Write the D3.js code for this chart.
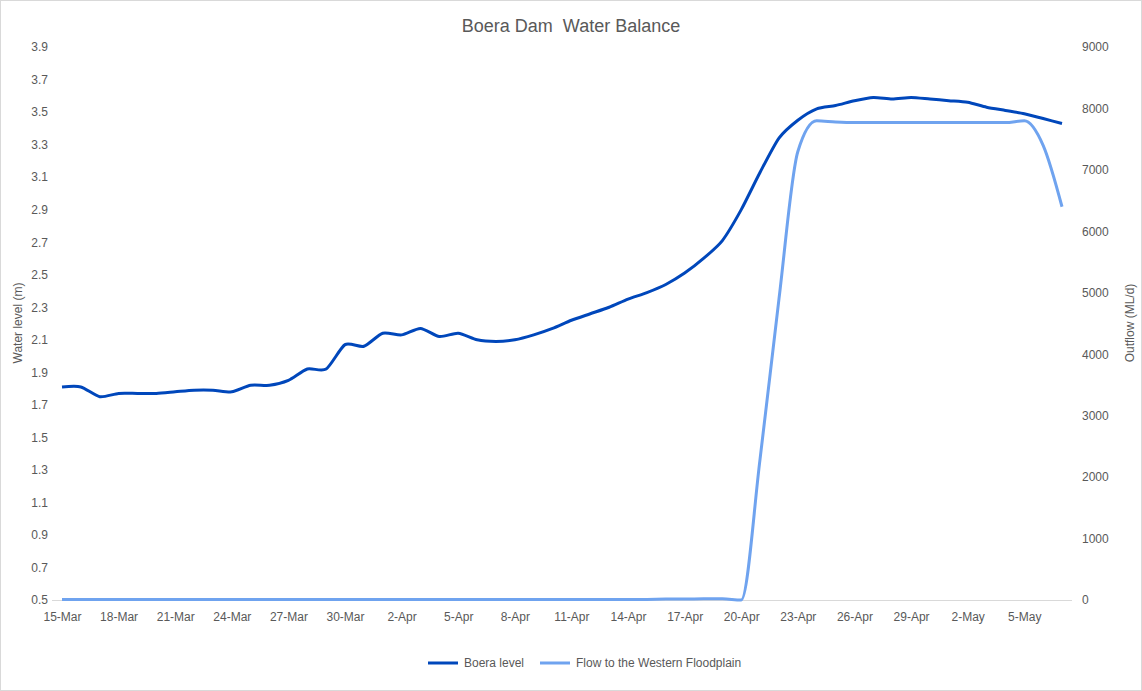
<!DOCTYPE html>
<html><head><meta charset="utf-8">
<script src="https://cdn.jsdelivr.net/npm/d3@7"></script>
<style>body{margin:0;background:#fff}text{font-family:"Liberation Sans",Arial,sans-serif}</style>
</head><body><svg id="c" width="1142" height="691"></svg>
<script>
const startDay = 15, nDays = 54;
const dates = d3.range(nDays).map(i => new Date(2021, 2, startDay + i));
const dateLabels = dates.map(d => d.getDate() + "-" + ["Jan","Feb","Mar","Apr","May"][d.getMonth()]);
const levelValues = [1.81,1.81,1.75,1.77,1.77,1.77,1.78,1.79,1.79,1.78,1.82,1.82,1.85,1.92,1.92,2.07,2.06,2.14,2.13,2.17,2.12,2.14,2.10,2.09,2.10,2.13,2.17,2.22,2.26,2.30,2.35,2.39,2.44,2.51,2.60,2.71,2.90,3.13,3.34,3.45,3.52,3.54,3.57,3.59,3.58,3.59,3.58,3.57,3.56,3.53,3.51,3.49,3.46,3.43];
const flowValues = [10,10,10,10,10,10,10,10,10,10,10,10,10,10,10,10,10,10,10,10,10,10,10,10,10,10,10,10,10,10,10,10,15,15,20,20,0,2300,4900,7300,7800,7780,7770,7770,7770,7770,7770,7770,7770,7770,7770,7800,7400,6400];
const leftTicks = d3.range(0.5, 3.95, 0.2);
const rightTicks = d3.range(0, 9001, 1000);

const svg = d3.select("#c");
svg.append("rect").attr("x",0.5).attr("y",0.5).attr("width",1141).attr("height",690).attr("fill","#fff").attr("stroke","#d9d9d9");
const x = d3.scalePoint().domain(d3.range(nDays)).range([62,1062]);
const yL = d3.scaleLinear().domain([0.5,3.9]).range([600,47]);
const yR = d3.scaleLinear().domain([0,9000]).range([600,47]);
const gray = "#595959";

svg.append("text").attr("x",571).attr("y",32).attr("text-anchor","middle").attr("font-size",18).attr("fill",gray)
  .style("white-space","pre").text("Boera Dam  Water Balance");

const gx = svg.append("g").attr("transform","translate(0,600)")
  .call(d3.axisBottom(x).tickValues(d3.range(0,nDays,3)).tickFormat(i=>dateLabels[i]).tickSize(0).tickPadding(12));
gx.select(".domain").attr("stroke","#d9d9d9").attr("d","M52,0.5H1072");
gx.selectAll("text").attr("font-size",12).attr("fill",gray);

const gl = svg.append("g").attr("transform","translate(48,0)")
  .call(d3.axisLeft(yL).tickValues(leftTicks).tickFormat(d3.format(".1f")).tickSize(0).tickPadding(0));
gl.select(".domain").remove();
gl.selectAll("text").attr("font-size",12).attr("fill",gray);

const gr = svg.append("g").attr("transform","translate(1072,0)")
  .call(d3.axisRight(yR).tickValues(rightTicks).tickFormat(d3.format("d")).tickSize(0).tickPadding(10));
gr.select(".domain").remove();
gr.selectAll("text").attr("font-size",12).attr("fill",gray);

svg.append("text").attr("transform","translate(22,323) rotate(-90)").attr("text-anchor","middle").attr("font-size",12).attr("fill",gray).text("Water level (m)");
svg.append("text").attr("transform","translate(1134,323) rotate(-90)").attr("text-anchor","middle").attr("font-size",12).attr("fill",gray).text("Outflow (ML/d)");

svg.append("path").datum(flowValues).attr("fill","none").attr("stroke","#6fa3ef").attr("stroke-width",3)
  .attr("d", d3.line().x((d,i)=>x(i)).y(d=>yR(d)).curve(d3.curveMonotoneX));
svg.append("path").datum(levelValues).attr("fill","none").attr("stroke","#0047bb").attr("stroke-width",3)
  .attr("d", d3.line().x((d,i)=>x(i)).y(d=>yL(d)).curve(d3.curveCardinal.tension(0.3)));

const legend = [["Boera level","#0047bb",428],["Flow to the Western Floodplain","#6fa3ef",540]];
legend.forEach(([t,c,lx])=>{
  svg.append("line").attr("x1",lx).attr("x2",lx+30).attr("y1",663).attr("y2",663).attr("stroke",c).attr("stroke-width",3);
  svg.append("text").attr("x",lx+36).attr("y",667).attr("font-size",12).attr("fill",gray).text(t);
});
</script></body></html>
